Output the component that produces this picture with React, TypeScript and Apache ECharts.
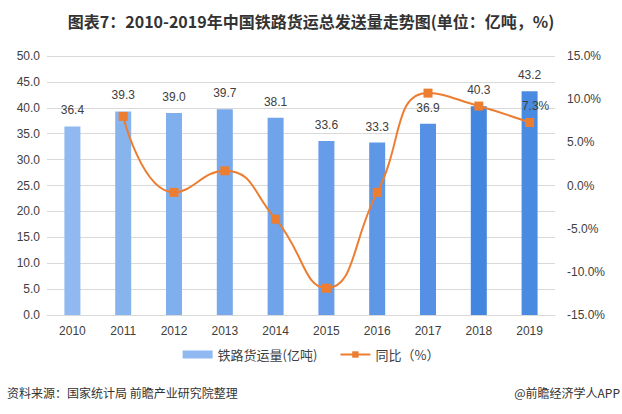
import React, { useEffect, useRef } from "react";
import * as echarts from "echarts";

const years = ["2010", "2011", "2012", "2013", "2014", "2015", "2016", "2017", "2018", "2019"];
const volume = [36.4, 39.3, 39.0, 39.7, 38.1, 33.6, 33.3, 36.9, 40.3, 43.2];
const growth = [null, 8.0, -0.8, 1.7, -3.9, -11.9, -0.8, 10.7, 9.2, 7.3];
const barColors = ["#8FB9F0", "#88B4EE", "#80AFEE", "#78A9EC", "#6FA3EA", "#679DE8", "#5E97E6", "#5690E4", "#4286E0", "#4A8BE2"];

export default function App() {
  const ref = useRef<HTMLDivElement>(null);
  useEffect(() => {
    const chart = echarts.init(ref.current!, null, { renderer: "svg" });
    const font = "'Liberation Sans', Arial, sans-serif";
    const cjk = "'Noto Sans CJK SC', sans-serif";
    chart.setOption({
      animation: false,
      backgroundColor: "#fff",
      title: {
        text: "图表7：2010-2019年中国铁路货运总发送量走势图(单位：亿吨，%)",
        left: "center",
        top: 8,
        textStyle: { fontFamily: cjk, fontWeight: "bold", fontSize: 16, color: "#333" },
      },
      grid: { left: 47, right: 67, top: 56, bottom: 99 },
      legend: {
        bottom: 48,
        left: "center",
        itemGap: 22,
        itemWidth: 30,
        itemHeight: 8,
        textStyle: { fontFamily: cjk, fontSize: 13, color: "#404040" },
        data: [
          { name: "铁路货运量(亿吨)", icon: "rect", itemStyle: { color: "#8FB9F0" } },
          { name: "同比（%）" },
        ],
      },
      xAxis: {
        type: "category",
        data: years,
        axisLine: { lineStyle: { color: "#D9D9D9" } },
        axisTick: { show: false },
        axisLabel: { color: "#404040", fontFamily: font, fontSize: 12, margin: 10 },
      },
      yAxis: [
        {
          type: "value",
          min: 0,
          max: 50,
          interval: 5,
          axisLine: { show: false },
          axisTick: { show: false },
          splitLine: { lineStyle: { color: "#D9D9D9" } },
          axisLabel: { color: "#404040", fontFamily: font, fontSize: 12, formatter: (v: number) => v.toFixed(1), margin: 7 },
        },
        {
          type: "value",
          min: -15,
          max: 15,
          interval: 5,
          axisLine: { show: false },
          axisTick: { show: false },
          splitLine: { show: false },
          axisLabel: { color: "#404040", fontFamily: font, fontSize: 12, formatter: (v: number) => v.toFixed(1) + "%", margin: 12 },
        },
      ],
      series: [
        {
          name: "铁路货运量(亿吨)",
          type: "bar",
          barWidth: 16,
          data: volume.map((v, i) => ({ value: v, itemStyle: { color: barColors[i] } })),
          label: {
            show: true,
            position: "top",
            distance: 10,
            color: "#404040",
            fontFamily: font,
            fontSize: 12,
            formatter: (p: any) => p.value.toFixed(1),
          },
        },
        {
          name: "同比（%）",
          type: "line",
          yAxisIndex: 1,
          smooth: true,
          symbol: "rect",
          symbolSize: 9,
          lineStyle: { color: "#ED7D31", width: 2 },
          itemStyle: { color: "#ED7D31" },
          data: growth.map((v, i) => ({
            value: v,
            label: i === growth.length - 1
              ? { show: true, position: "top", distance: 6, offset: [6, 0], formatter: (p: any) => p.value.toFixed(1) + "%", color: "#404040", fontFamily: font, fontSize: 12 }
              : { show: false },
          })),
        },
      ],
      graphic: [
        {
          type: "text",
          left: 7,
          top: 386,
          style: { text: "资料来源：国家统计局 前瞻产业研究院整理", fontFamily: cjk, fontSize: 12, fill: "#333" },
        },
        {
          type: "text",
          right: 2,
          top: 386,
          style: { text: "@前瞻经济学人APP", fontFamily: cjk, fontSize: 12, fill: "#333" },
        },
      ],
    });
    return () => chart.dispose();
  }, []);
  return <div ref={ref} style={{ width: 622, height: 414, position: "absolute", left: 0, top: 0 }} />;
}
